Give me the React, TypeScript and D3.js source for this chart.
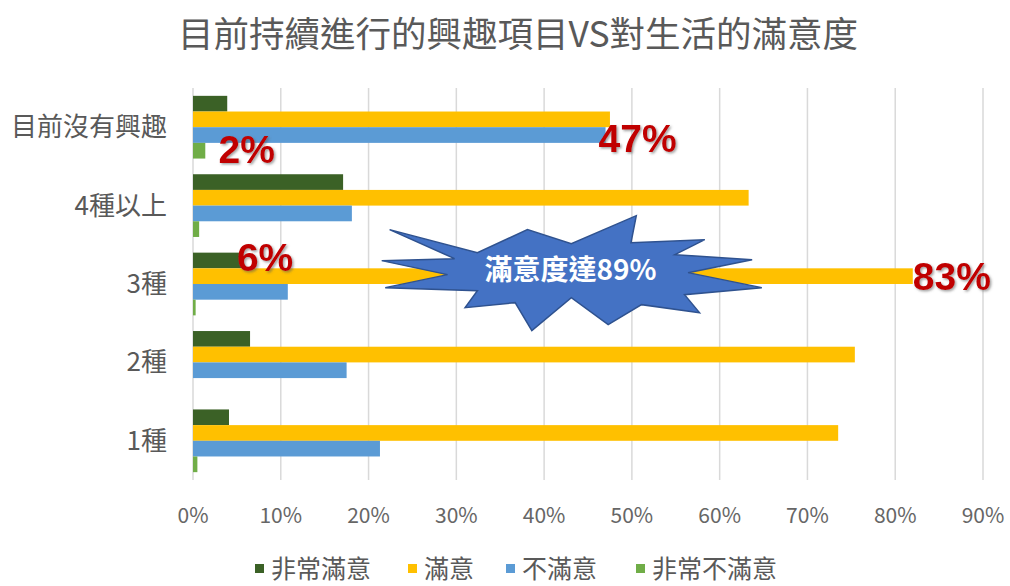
import React from "react";
import * as d3 from "d3";

const categories = ["目前沒有興趣", "4種以上", "3種", "2種", "1種"];
const seriesNames = ["非常滿意", "滿意", "不滿意", "非常不滿意"];
const verySatisfied = [0.039, 0.171, 0.055, 0.065, 0.041];
const satisfied = [0.475, 0.633, 0.82, 0.754, 0.735];
const unsatisfied = [0.47, 0.181, 0.108, 0.175, 0.213];
const veryUnsatisfied = [0.014, 0.007, 0.003, 0, 0.005];
const seriesValues = [verySatisfied, satisfied, unsatisfied, veryUnsatisfied];
const seriesColors = ["#3B6126", "#FFC000", "#5B9BD5", "#70AD47"];
const xTicks = [0, 0.1, 0.2, 0.3, 0.4, 0.5, 0.6, 0.7, 0.8, 0.9];
const title = "目前持續進行的興趣項目VS對生活的滿意度";
const annotations = [
  { text: "2%", cat: "目前沒有興趣", value: 0.029, dy: 32 },
  { text: "47%", cat: "目前沒有興趣", value: 0.462, dy: 21 },
  { text: "6%", cat: "3種", value: 0.05, dy: -17 },
  { text: "83%", cat: "3種", value: 0.82, dy: 2 },
];
const burstText = "滿意度達89%";
// starburst outline as (x in value units, y offset px from 3種 band top)
const burstPoints: [number, number][] = [
  [0.224, -23], [0.324, 0], [0.381, -23], [0.431, -9], [0.505, -37], [0.499, -10],
  [0.583, -13], [0.549, 2], [0.637, 7], [0.564, 20], [0.648, 35], [0.56, 42],
  [0.577, 60], [0.511, 52], [0.473, 72], [0.431, 45], [0.386, 78], [0.367, 50],
  [0.31, 55], [0.324, 38], [0.219, 35], [0.29, 22], [0.215, 8], [0.298, 6],
];

const FONT = "'Noto Sans CJK TC', 'Noto Sans', sans-serif";

export default function App() {
  const W = 1010, H = 586;
  const x = d3.scaleLinear().domain([0, 0.9]).range([193, 983]);
  const y = d3.scaleBand<string>().domain(categories).range([88, 480]).paddingInner(0.2).paddingOuter(0.1);
  const ys = d3.scaleBand<string>().domain(seriesNames).range([0, y.bandwidth()]);
  const band3 = y("3種") as number;
  const burstPath = d3.line()(burstPoints.map(([v, o]) => [x(v), band3 + o] as [number, number])) + "Z";
  const legendX = [255, 408, 506, 636];

  return (
    <div style={{ position: "absolute", left: 0, top: 0 }}>
      <svg width={W} height={H} style={{ display: "block", background: "#fff" }}>
        <defs>
          <filter id="sh" x="-20%" y="-20%" width="140%" height="140%">
            <feDropShadow dx="1.5" dy="1.5" stdDeviation="1" floodColor="#555" floodOpacity="0.55" />
          </filter>
        </defs>
        <text x={518} y={47} textAnchor="middle" fontFamily={FONT} fontSize={35.5} fill="#595959">
          {title}
        </text>
        {xTicks.map((t) => (
          <line key={t} x1={x(t)} x2={x(t)} y1={88} y2={480} stroke="#D9D9D9" strokeWidth={1.5} />
        ))}
        {xTicks.map((t) => (
          <text key={"l" + t} x={x(t)} y={523} textAnchor="middle" fontFamily={FONT} fontSize={21} fill="#666666">
            {d3.format(".0%")(t)}
          </text>
        ))}
        {categories.map((c) => (
          <text key={c} x={167} y={(y(c) as number) + y.bandwidth() / 2 + 9} textAnchor="end" fontFamily={FONT} fontSize={26} fill="#595959">
            {c}
          </text>
        ))}
        {seriesNames.map((s, si) =>
          categories.map((c, ci) => (
            <rect
              key={s + c}
              x={x(0)}
              y={(y(c) as number) + (ys(s) as number)}
              width={x(seriesValues[si][ci]) - x(0)}
              height={ys.bandwidth()}
              fill={seriesColors[si]}
            />
          ))
        )}
        <path d={burstPath} fill="#4472C4" stroke="#2F528F" strokeWidth={1.5} strokeLinejoin="miter" />
        <text x={x(0.43)} y={band3 + 27} textAnchor="middle" fontFamily={FONT} fontWeight="bold" fontSize={28} fill="#fff">
          {burstText}
        </text>
        {annotations.map((a) => (
          <text
            key={a.text}
            x={x(a.value)}
            y={(y(a.cat) as number) + a.dy + 35}
            fontFamily="'Liberation Sans', Arial, sans-serif"
            fontWeight="bold"
            fontSize={39}
            fill="#C00000"
            filter="url(#sh)"
          >
            {a.text}
          </text>
        ))}
        {seriesNames.map((s, si) => (
          <g key={"lg" + s} transform={`translate(${legendX[si]},0)`}>
            <rect x={0} y={564} width={9} height={9} fill={seriesColors[si]} />
            <text x={16} y={578} fontFamily={FONT} fontSize={25} fill="#595959">
              {s}
            </text>
          </g>
        ))}
      </svg>
    </div>
  );
}
